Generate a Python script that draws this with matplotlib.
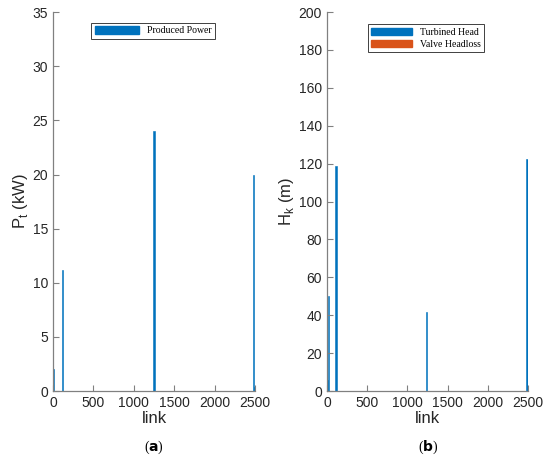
import matplotlib
matplotlib.use("Agg")
import matplotlib.pyplot as plt
from matplotlib.patches import Patch

# panel (a): produced power per link
power_links = [8, 115, 1250, 2487, 2500]
power_kw = [2.0, 11.2, 24.0, 20.0, 0.4]

# panel (b): turbined head and valve headloss per link
head_links = [6, 16, 112, 1240, 2487, 2500]
turbined_head = [6.0, 50.0, 119.0, 41.5, 122.5, 2.0]
valve_links = [2500]
valve_headloss = [0.0]

blue = "#0072BD"
orange = "#D95319"
axis_gray = "#808080"
text_gray = "#262626"

plt.rcParams["font.family"] = ["Liberation Sans", "DejaVu Sans"]

fig = plt.figure(figsize=(5.5, 4.65), dpi=100)
ax1 = fig.add_axes([0.0964, 0.159, 0.367, 0.815])
ax2 = fig.add_axes([0.5945, 0.159, 0.3655, 0.815])


def style_axes(ax, ymax, ystep):
    ax.set_xlim(0, 2500)
    ax.set_ylim(0, ymax)
    ax.set_xticks(range(0, 2501, 500))
    ax.set_yticks(range(0, ymax + 1, ystep))
    for side in ["top", "right"]:
        ax.spines[side].set_visible(False)
    for side in ["left", "bottom"]:
        ax.spines[side].set_color(axis_gray)
        ax.spines[side].set_linewidth(0.9)
    ax.tick_params(direction="in", length=4, width=0.8, color=axis_gray,
                   labelcolor=text_gray, labelsize=10)
    ax.set_xlabel("link", fontsize=12, color=text_gray, labelpad=1)


ax1.bar(power_links, power_kw, width=14, color=blue, edgecolor=blue, linewidth=0.4)
style_axes(ax1, 35, 5)
ax1.set_ylabel(r"P$_\mathregular{t}$ (kW)", fontsize=12, color=text_gray, labelpad=2)
leg1 = ax1.legend(handles=[Patch(facecolor=blue, edgecolor=blue)],
                  labels=["Produced Power"], loc="upper left",
                  bbox_to_anchor=(0.19, 0.972), prop={"family": "Liberation Serif", "size": 7},
                  handlelength=4.6, handleheight=0.8, borderpad=0.35, fancybox=False,
                  framealpha=1, edgecolor="#404040", borderaxespad=0)
leg1.get_frame().set_linewidth(0.7)

ax2.bar(head_links, turbined_head, width=14, color=blue, edgecolor=blue, linewidth=0.4)
ax2.bar(valve_links, valve_headloss, width=14, color=orange, edgecolor=orange, linewidth=0.4)
style_axes(ax2, 200, 20)
ax2.set_ylabel(r"H$_\mathregular{k}$ (m)", fontsize=12, color=text_gray, labelpad=2)
leg2 = ax2.legend(handles=[Patch(facecolor=blue, edgecolor=blue),
                           Patch(facecolor=orange, edgecolor=orange)],
                  labels=["Turbined Head", "Valve Headloss"], loc="upper left",
                  bbox_to_anchor=(0.204, 0.968), prop={"family": "Liberation Serif", "size": 7},
                  handlelength=4.2, handleheight=0.8, borderpad=0.35, labelspacing=0.3,
                  fancybox=False, framealpha=1, edgecolor="#404040", borderaxespad=0)
leg2.get_frame().set_linewidth(0.7)

fig.text(0.28, 0.037, r"($\mathbf{a}$)", ha="center", va="center", fontsize=10,
         family="Liberation Serif")
fig.text(0.778, 0.037, r"($\mathbf{b}$)", ha="center", va="center", fontsize=10,
         family="Liberation Serif")

fig.savefig("out.png", dpi=100)
